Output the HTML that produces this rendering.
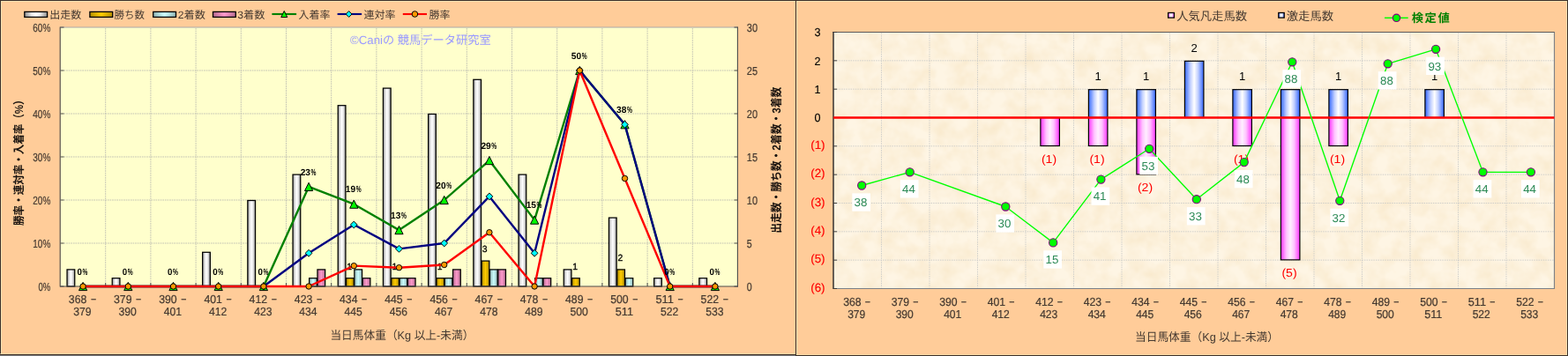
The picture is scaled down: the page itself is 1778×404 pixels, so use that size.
<!DOCTYPE html>
<html lang="ja"><head><meta charset="utf-8"><title>chart</title>
<style>html,body{margin:0;padding:0;background:#FFCC99}body{width:1778px;height:404px;overflow:hidden;font-family:"Liberation Sans",sans-serif}svg{display:block}text{font-family:"Liberation Sans","Noto Sans CJK JP",sans-serif;white-space:pre;text-rendering:geometricPrecision}</style></head><body>
<svg width="1778" height="404" viewBox="0 0 1778 404" font-family="'Liberation Sans', 'Noto Sans CJK JP', sans-serif"><defs><linearGradient id="gW" x1="0" x2="1" y1="0" y2="0"><stop offset="0" stop-color="#909090"/><stop offset="0.3" stop-color="#e6e6e6"/><stop offset="0.5" stop-color="#ffffff"/><stop offset="0.7" stop-color="#e6e6e6"/><stop offset="1" stop-color="#909090"/></linearGradient><linearGradient id="gG" x1="0" x2="1" y1="0" y2="0"><stop offset="0" stop-color="#b38f00"/><stop offset="0.5" stop-color="#ffcc00"/><stop offset="1" stop-color="#b38f00"/></linearGradient><linearGradient id="gC" x1="0" x2="1" y1="0" y2="0"><stop offset="0" stop-color="#8fb3b3"/><stop offset="0.5" stop-color="#ccffff"/><stop offset="1" stop-color="#8fb3b3"/></linearGradient><linearGradient id="gP" x1="0" x2="1" y1="0" y2="0"><stop offset="0" stop-color="#b36b8f"/><stop offset="0.5" stop-color="#ff99cc"/><stop offset="1" stop-color="#b36b8f"/></linearGradient><linearGradient id="gB" x1="0" x2="1" y1="0" y2="0"><stop offset="0" stop-color="#3366ff"/><stop offset="0.3" stop-color="#c3d1ff"/><stop offset="0.5" stop-color="#ffffff"/><stop offset="0.7" stop-color="#c3d1ff"/><stop offset="1" stop-color="#3366ff"/></linearGradient><linearGradient id="gM" x1="0" x2="1" y1="0" y2="0"><stop offset="0" stop-color="#ff33ff"/><stop offset="0.3" stop-color="#ffc4ff"/><stop offset="0.5" stop-color="#ffeeff"/><stop offset="0.7" stop-color="#ffc4ff"/><stop offset="1" stop-color="#ff33ff"/></linearGradient><linearGradient id="gB2" x1="0" x2="1" y1="0" y2="0"><stop offset="0" stop-color="#4468ff"/><stop offset="0.3" stop-color="#d5deff"/><stop offset="0.5" stop-color="#ffffff"/><stop offset="0.7" stop-color="#d5deff"/><stop offset="1" stop-color="#4468ff"/></linearGradient><linearGradient id="gM2" x1="0" x2="1" y1="0" y2="0"><stop offset="0" stop-color="#ff3cff"/><stop offset="0.3" stop-color="#ffd0ff"/><stop offset="0.5" stop-color="#ffffff"/><stop offset="0.7" stop-color="#ffd0ff"/><stop offset="1" stop-color="#ff3cff"/></linearGradient><filter id="tex" x="0" y="0" width="100%" height="100%" color-interpolation-filters="sRGB"><feTurbulence type="fractalNoise" baseFrequency="0.05" numOctaves="3" seed="7" result="n"/><feColorMatrix in="n" type="matrix" values="0 0 0 0 0.976  0 0 0 0 0.914  0 0 0 0 0.80  1.6 0 0 0 -0.5"/></filter></defs>
<g opacity="0.999"><rect x="0" y="0" width="1778" height="404" fill="#FFCC99"/>
<rect x="0" y="403" width="902" height="1" fill="#7f7f7f"/>
<rect x="0" y="402" width="902" height="1" fill="#3b3029"/>
<rect x="0" y="0" width="1778" height="1" fill="#3b3029"/>
<rect x="0" y="1" width="1778" height="1" fill="#ffe3b3"/>
<rect x="0" y="0" width="1" height="403" fill="#3b3029"/>
<rect x="1" y="1" width="1" height="401" fill="#ffe3b3"/>
<rect x="0" y="401" width="902" height="1" fill="#ffe0ad" opacity="0.6"/>
<rect x="902" y="0" width="1" height="404" fill="#3b3029"/>
<rect x="903" y="1" width="1" height="402" fill="#ffe3b3"/>
<rect x="902" y="403" width="876" height="1" fill="#3b3029"/>
<rect x="904" y="402" width="873" height="1" fill="#ffe0ad" opacity="0.6"/>
<rect x="1777" y="0" width="1" height="404" fill="#3b3029"/>
<rect x="1776" y="1" width="1" height="402" fill="#ffe3b3"/>
<rect x="68.5" y="31" width="768" height="294" fill="#FFFFCC"/>
<line x1="68.5" y1="31" x2="836.5" y2="31" stroke="#a9a9a9" stroke-width="1"/>
<path d="M72.5 276H832.5M72.5 227H832.5M72.5 178H832.5M72.5 129H832.5M72.5 80H832.5M119.7 32V324M170.9 32V324M222.1 32V324M273.3 32V324M324.5 32V324M375.7 32V324M426.9 32V324M478.1 32V324M529.3 32V324M580.5 32V324M631.7 32V324M682.9 32V324M734.1 32V324M785.3 32V324" stroke="#c3c3b4" stroke-width="1" stroke-dasharray="1.7 0.9" fill="none"/>
<rect x="76.03" y="305.9" width="8.71" height="19.1" fill="url(#gW)" stroke="#000" stroke-width="1.25"/>
<rect x="127.23" y="315.7" width="8.71" height="9.3" fill="url(#gW)" stroke="#000" stroke-width="1.25"/>
<rect x="229.63" y="286.3" width="8.71" height="38.7" fill="url(#gW)" stroke="#000" stroke-width="1.25"/>
<rect x="280.83" y="227.5" width="8.71" height="97.5" fill="url(#gW)" stroke="#000" stroke-width="1.25"/>
<rect x="332.03" y="198.1" width="8.71" height="126.9" fill="url(#gW)" stroke="#000" stroke-width="1.25"/>
<rect x="350.65" y="315.7" width="8.71" height="9.3" fill="url(#gC)" stroke="#000" stroke-width="1.25"/>
<rect x="359.96" y="305.9" width="8.71" height="19.1" fill="url(#gP)" stroke="#000" stroke-width="1.25"/>
<rect x="383.23" y="119.7" width="8.71" height="205.3" fill="url(#gW)" stroke="#000" stroke-width="1.25"/>
<rect x="392.54" y="315.7" width="8.71" height="9.3" fill="url(#gG)" stroke="#000" stroke-width="1.25"/>
<rect x="401.85" y="305.9" width="8.71" height="19.1" fill="url(#gC)" stroke="#000" stroke-width="1.25"/>
<rect x="411.16" y="315.7" width="8.71" height="9.3" fill="url(#gP)" stroke="#000" stroke-width="1.25"/>
<rect x="434.43" y="100.1" width="8.71" height="224.9" fill="url(#gW)" stroke="#000" stroke-width="1.25"/>
<rect x="443.74" y="315.7" width="8.71" height="9.3" fill="url(#gG)" stroke="#000" stroke-width="1.25"/>
<rect x="453.05" y="315.7" width="8.71" height="9.3" fill="url(#gC)" stroke="#000" stroke-width="1.25"/>
<rect x="462.36" y="315.7" width="8.71" height="9.3" fill="url(#gP)" stroke="#000" stroke-width="1.25"/>
<rect x="485.63" y="129.5" width="8.71" height="195.5" fill="url(#gW)" stroke="#000" stroke-width="1.25"/>
<rect x="494.94" y="315.7" width="8.71" height="9.3" fill="url(#gG)" stroke="#000" stroke-width="1.25"/>
<rect x="504.25" y="315.7" width="8.71" height="9.3" fill="url(#gC)" stroke="#000" stroke-width="1.25"/>
<rect x="513.56" y="305.9" width="8.71" height="19.1" fill="url(#gP)" stroke="#000" stroke-width="1.25"/>
<rect x="536.83" y="90.3" width="8.71" height="234.7" fill="url(#gW)" stroke="#000" stroke-width="1.25"/>
<rect x="546.14" y="296.1" width="8.71" height="28.9" fill="url(#gG)" stroke="#000" stroke-width="1.25"/>
<rect x="555.45" y="305.9" width="8.71" height="19.1" fill="url(#gC)" stroke="#000" stroke-width="1.25"/>
<rect x="564.76" y="305.9" width="8.71" height="19.1" fill="url(#gP)" stroke="#000" stroke-width="1.25"/>
<rect x="588.03" y="198.1" width="8.71" height="126.9" fill="url(#gW)" stroke="#000" stroke-width="1.25"/>
<rect x="606.65" y="315.7" width="8.71" height="9.3" fill="url(#gC)" stroke="#000" stroke-width="1.25"/>
<rect x="615.96" y="315.7" width="8.71" height="9.3" fill="url(#gP)" stroke="#000" stroke-width="1.25"/>
<rect x="639.23" y="305.9" width="8.71" height="19.1" fill="url(#gW)" stroke="#000" stroke-width="1.25"/>
<rect x="648.54" y="315.7" width="8.71" height="9.3" fill="url(#gG)" stroke="#000" stroke-width="1.25"/>
<rect x="690.43" y="247.1" width="8.71" height="77.9" fill="url(#gW)" stroke="#000" stroke-width="1.25"/>
<rect x="699.74" y="305.9" width="8.71" height="19.1" fill="url(#gG)" stroke="#000" stroke-width="1.25"/>
<rect x="709.05" y="315.7" width="8.71" height="9.3" fill="url(#gC)" stroke="#000" stroke-width="1.25"/>
<rect x="741.63" y="315.7" width="8.71" height="9.3" fill="url(#gW)" stroke="#000" stroke-width="1.25"/>
<rect x="792.83" y="315.7" width="8.71" height="9.3" fill="url(#gW)" stroke="#000" stroke-width="1.25"/>
<path d="M68.2 30.5V325.5" stroke="#4a4a4a" stroke-width="1.1" fill="none"/>
<path d="M836.4 30.5V325.5" stroke="#4a4a4a" stroke-width="1.1" fill="none"/>
<path d="M68 325H837" stroke="#4a4a4a" stroke-width="1.1" fill="none"/>
<path d="M68.5 325h4M836.5 325h-4M68.5 276h4M836.5 276h-4M68.5 227h4M836.5 227h-4M68.5 178h4M836.5 178h-4M68.5 129h4M836.5 129h-4M68.5 80h4M836.5 80h-4M68.5 31h4M836.5 31h-4M119.7 325v-4M170.9 325v-4M222.1 325v-4M273.3 325v-4M324.5 325v-4M375.7 325v-4M426.9 325v-4M478.1 325v-4M529.3 325v-4M580.5 325v-4M631.7 325v-4M682.9 325v-4M734.1 325v-4M785.3 325v-4" stroke="#4a4a4a" stroke-width="1" fill="none"/>
<text x="396.15" y="306" font-size="10.4" fill="#000" text-anchor="middle" stroke="#000" stroke-width="0.3">1</text>
<text x="447.35" y="306" font-size="10.4" fill="#000" text-anchor="middle" stroke="#000" stroke-width="0.3">1</text>
<text x="498.55" y="306" font-size="10.4" fill="#000" text-anchor="middle" stroke="#000" stroke-width="0.3">1</text>
<text x="549.75" y="286.4" font-size="10.4" fill="#000" text-anchor="middle" stroke="#000" stroke-width="0.3">3</text>
<text x="652.15" y="306" font-size="10.4" fill="#000" text-anchor="middle" stroke="#000" stroke-width="0.3">1</text>
<text x="703.35" y="296.2" font-size="10.4" fill="#000" text-anchor="middle" stroke="#000" stroke-width="0.3">2</text>
<polyline points="94.1,325 145.3,325 196.5,325 247.7,325 298.9,325 350.1,211.92 401.3,231.67 452.5,261.09 503.7,227 554.9,182.08 606.1,249.62 657.3,80 708.5,141.25 759.7,325 810.9,325" fill="none" stroke="#008000" stroke-width="2.4" stroke-linejoin="round"/>
<path d="M94.1 320.4L98.7 329.6L89.5 329.6Z" fill="#00FF00" stroke="#000" stroke-width="1"/>
<path d="M145.3 320.4L149.9 329.6L140.7 329.6Z" fill="#00FF00" stroke="#000" stroke-width="1"/>
<path d="M196.5 320.4L201.1 329.6L191.9 329.6Z" fill="#00FF00" stroke="#000" stroke-width="1"/>
<path d="M247.7 320.4L252.3 329.6L243.1 329.6Z" fill="#00FF00" stroke="#000" stroke-width="1"/>
<path d="M298.9 320.4L303.5 329.6L294.3 329.6Z" fill="#00FF00" stroke="#000" stroke-width="1"/>
<path d="M350.1 207.32L354.7 216.52L345.5 216.52Z" fill="#00FF00" stroke="#000" stroke-width="1"/>
<path d="M401.3 227.07L405.9 236.27L396.7 236.27Z" fill="#00FF00" stroke="#000" stroke-width="1"/>
<path d="M452.5 256.49L457.1 265.69L447.9 265.69Z" fill="#00FF00" stroke="#000" stroke-width="1"/>
<path d="M503.7 222.4L508.3 231.6L499.1 231.6Z" fill="#00FF00" stroke="#000" stroke-width="1"/>
<path d="M554.9 177.48L559.5 186.68L550.3 186.68Z" fill="#00FF00" stroke="#000" stroke-width="1"/>
<path d="M606.1 245.02L610.7 254.22L601.5 254.22Z" fill="#00FF00" stroke="#000" stroke-width="1"/>
<path d="M657.3 75.4L661.9 84.6L652.7 84.6Z" fill="#00FF00" stroke="#000" stroke-width="1"/>
<path d="M708.5 136.65L713.1 145.85L703.9 145.85Z" fill="#00FF00" stroke="#000" stroke-width="1"/>
<path d="M759.7 320.4L764.3 329.6L755.1 329.6Z" fill="#00FF00" stroke="#000" stroke-width="1"/>
<path d="M810.9 320.4L815.5 329.6L806.3 329.6Z" fill="#00FF00" stroke="#000" stroke-width="1"/>
<polyline points="94.1,325 145.3,325 196.5,325 247.7,325 298.9,325 350.1,287.31 401.3,255 452.5,282.39 503.7,276 554.9,222.92 606.1,287.31 657.3,80 708.5,141.25 759.7,325 810.9,325" fill="none" stroke="#000080" stroke-width="2.4" stroke-linejoin="round"/>
<path d="M298.9 321.1L302.8 325L298.9 328.9L295 325Z" fill="#00FFFF" stroke="#000" stroke-width="1"/>
<path d="M350.1 283.41L354 287.31L350.1 291.21L346.2 287.31Z" fill="#00FFFF" stroke="#000" stroke-width="1"/>
<path d="M401.3 251.1L405.2 255L401.3 258.9L397.4 255Z" fill="#00FFFF" stroke="#000" stroke-width="1"/>
<path d="M452.5 278.49L456.4 282.39L452.5 286.29L448.6 282.39Z" fill="#00FFFF" stroke="#000" stroke-width="1"/>
<path d="M503.7 272.1L507.6 276L503.7 279.9L499.8 276Z" fill="#00FFFF" stroke="#000" stroke-width="1"/>
<path d="M554.9 219.02L558.8 222.92L554.9 226.82L551 222.92Z" fill="#00FFFF" stroke="#000" stroke-width="1"/>
<path d="M606.1 283.41L610 287.31L606.1 291.21L602.2 287.31Z" fill="#00FFFF" stroke="#000" stroke-width="1"/>
<path d="M657.3 76.1L661.2 80L657.3 83.9L653.4 80Z" fill="#00FFFF" stroke="#000" stroke-width="1"/>
<path d="M708.5 137.35L712.4 141.25L708.5 145.15L704.6 141.25Z" fill="#00FFFF" stroke="#000" stroke-width="1"/>
<polyline points="94.1,325 145.3,325 196.5,325 247.7,325 298.9,325 350.1,325 401.3,301.67 452.5,303.7 503.7,300.5 554.9,263.75 606.1,325 657.3,80 708.5,202.5 759.7,325 810.9,325" fill="none" stroke="#FF0000" stroke-width="2.4" stroke-linejoin="round"/>
<circle cx="94.1" cy="325" r="3.2" fill="#FF9900" stroke="#000" stroke-width="1"/>
<circle cx="145.3" cy="325" r="3.2" fill="#FF9900" stroke="#000" stroke-width="1"/>
<circle cx="196.5" cy="325" r="3.2" fill="#FF9900" stroke="#000" stroke-width="1"/>
<circle cx="247.7" cy="325" r="3.2" fill="#FF9900" stroke="#000" stroke-width="1"/>
<circle cx="298.9" cy="325" r="3.2" fill="#FF9900" stroke="#000" stroke-width="1"/>
<circle cx="350.1" cy="325" r="3.2" fill="#FF9900" stroke="#000" stroke-width="1"/>
<circle cx="401.3" cy="301.67" r="3.2" fill="#FF9900" stroke="#000" stroke-width="1"/>
<circle cx="452.5" cy="303.7" r="3.2" fill="#FF9900" stroke="#000" stroke-width="1"/>
<circle cx="503.7" cy="300.5" r="3.2" fill="#FF9900" stroke="#000" stroke-width="1"/>
<circle cx="554.9" cy="263.75" r="3.2" fill="#FF9900" stroke="#000" stroke-width="1"/>
<circle cx="606.1" cy="325" r="3.2" fill="#FF9900" stroke="#000" stroke-width="1"/>
<circle cx="657.3" cy="80" r="3.2" fill="#FF9900" stroke="#000" stroke-width="1"/>
<circle cx="708.5" cy="202.5" r="3.2" fill="#FF9900" stroke="#000" stroke-width="1"/>
<circle cx="759.7" cy="325" r="3.2" fill="#FF9900" stroke="#000" stroke-width="1"/>
<circle cx="810.9" cy="325" r="3.2" fill="#FF9900" stroke="#000" stroke-width="1"/>
<text x="87.6" y="311.6" font-size="10.4" fill="#000" textLength="5.4" lengthAdjust="spacingAndGlyphs" font-weight="bold">0</text>
<text x="93.6" y="311.6" font-size="10.4" fill="#000" textLength="5.9" lengthAdjust="spacingAndGlyphs" font-weight="bold">%</text>
<text x="138.8" y="311.6" font-size="10.4" fill="#000" textLength="5.4" lengthAdjust="spacingAndGlyphs" font-weight="bold">0</text>
<text x="144.8" y="311.6" font-size="10.4" fill="#000" textLength="5.9" lengthAdjust="spacingAndGlyphs" font-weight="bold">%</text>
<text x="190" y="311.6" font-size="10.4" fill="#000" textLength="5.4" lengthAdjust="spacingAndGlyphs" font-weight="bold">0</text>
<text x="196" y="311.6" font-size="10.4" fill="#000" textLength="5.9" lengthAdjust="spacingAndGlyphs" font-weight="bold">%</text>
<text x="241.2" y="311.6" font-size="10.4" fill="#000" textLength="5.4" lengthAdjust="spacingAndGlyphs" font-weight="bold">0</text>
<text x="247.2" y="311.6" font-size="10.4" fill="#000" textLength="5.9" lengthAdjust="spacingAndGlyphs" font-weight="bold">%</text>
<text x="292.4" y="311.6" font-size="10.4" fill="#000" textLength="5.4" lengthAdjust="spacingAndGlyphs" font-weight="bold">0</text>
<text x="298.4" y="311.6" font-size="10.4" fill="#000" textLength="5.9" lengthAdjust="spacingAndGlyphs" font-weight="bold">%</text>
<text x="340.65" y="198.52" font-size="10.4" fill="#000" textLength="11.3" lengthAdjust="spacingAndGlyphs" font-weight="bold">23</text>
<text x="352.55" y="198.52" font-size="10.4" fill="#000" textLength="5.9" lengthAdjust="spacingAndGlyphs" font-weight="bold">%</text>
<text x="391.85" y="218.27" font-size="10.4" fill="#000" textLength="11.3" lengthAdjust="spacingAndGlyphs" font-weight="bold">19</text>
<text x="403.75" y="218.27" font-size="10.4" fill="#000" textLength="5.9" lengthAdjust="spacingAndGlyphs" font-weight="bold">%</text>
<text x="443.05" y="247.69" font-size="10.4" fill="#000" textLength="11.3" lengthAdjust="spacingAndGlyphs" font-weight="bold">13</text>
<text x="454.95" y="247.69" font-size="10.4" fill="#000" textLength="5.9" lengthAdjust="spacingAndGlyphs" font-weight="bold">%</text>
<text x="494.25" y="213.6" font-size="10.4" fill="#000" textLength="11.3" lengthAdjust="spacingAndGlyphs" font-weight="bold">20</text>
<text x="506.15" y="213.6" font-size="10.4" fill="#000" textLength="5.9" lengthAdjust="spacingAndGlyphs" font-weight="bold">%</text>
<text x="545.45" y="168.68" font-size="10.4" fill="#000" textLength="11.3" lengthAdjust="spacingAndGlyphs" font-weight="bold">29</text>
<text x="557.35" y="168.68" font-size="10.4" fill="#000" textLength="5.9" lengthAdjust="spacingAndGlyphs" font-weight="bold">%</text>
<text x="596.65" y="236.22" font-size="10.4" fill="#000" textLength="11.3" lengthAdjust="spacingAndGlyphs" font-weight="bold">15</text>
<text x="608.55" y="236.22" font-size="10.4" fill="#000" textLength="5.9" lengthAdjust="spacingAndGlyphs" font-weight="bold">%</text>
<text x="647.85" y="66.6" font-size="10.4" fill="#000" textLength="11.3" lengthAdjust="spacingAndGlyphs" font-weight="bold">50</text>
<text x="659.75" y="66.6" font-size="10.4" fill="#000" textLength="5.9" lengthAdjust="spacingAndGlyphs" font-weight="bold">%</text>
<text x="699.05" y="127.85" font-size="10.4" fill="#000" textLength="11.3" lengthAdjust="spacingAndGlyphs" font-weight="bold">38</text>
<text x="710.95" y="127.85" font-size="10.4" fill="#000" textLength="5.9" lengthAdjust="spacingAndGlyphs" font-weight="bold">%</text>
<text x="753.2" y="311.6" font-size="10.4" fill="#000" textLength="5.4" lengthAdjust="spacingAndGlyphs" font-weight="bold">0</text>
<text x="759.2" y="311.6" font-size="10.4" fill="#000" textLength="5.9" lengthAdjust="spacingAndGlyphs" font-weight="bold">%</text>
<text x="804.4" y="311.6" font-size="10.4" fill="#000" textLength="5.4" lengthAdjust="spacingAndGlyphs" font-weight="bold">0</text>
<text x="810.4" y="311.6" font-size="10.4" fill="#000" textLength="5.9" lengthAdjust="spacingAndGlyphs" font-weight="bold">%</text>
<text x="57.3" y="329.7" font-size="13" fill="#453a31" text-anchor="end" textLength="13.7" lengthAdjust="spacingAndGlyphs" stroke="#453a31" stroke-width="0.22">0%</text>
<text x="846.8" y="329.7" font-size="13" fill="#453a31" textLength="5.9" lengthAdjust="spacingAndGlyphs" stroke="#453a31" stroke-width="0.22">0</text>
<text x="57.3" y="280.7" font-size="13" fill="#453a31" text-anchor="end" textLength="20" lengthAdjust="spacingAndGlyphs" stroke="#453a31" stroke-width="0.22">10%</text>
<text x="846.8" y="280.7" font-size="13" fill="#453a31" textLength="5.9" lengthAdjust="spacingAndGlyphs" stroke="#453a31" stroke-width="0.22">5</text>
<text x="57.3" y="231.7" font-size="13" fill="#453a31" text-anchor="end" textLength="20" lengthAdjust="spacingAndGlyphs" stroke="#453a31" stroke-width="0.22">20%</text>
<text x="846.8" y="231.7" font-size="13" fill="#453a31" textLength="12.2" lengthAdjust="spacingAndGlyphs" stroke="#453a31" stroke-width="0.22">10</text>
<text x="57.3" y="182.7" font-size="13" fill="#453a31" text-anchor="end" textLength="20" lengthAdjust="spacingAndGlyphs" stroke="#453a31" stroke-width="0.22">30%</text>
<text x="846.8" y="182.7" font-size="13" fill="#453a31" textLength="12.2" lengthAdjust="spacingAndGlyphs" stroke="#453a31" stroke-width="0.22">15</text>
<text x="57.3" y="133.7" font-size="13" fill="#453a31" text-anchor="end" textLength="20" lengthAdjust="spacingAndGlyphs" stroke="#453a31" stroke-width="0.22">40%</text>
<text x="846.8" y="133.7" font-size="13" fill="#453a31" textLength="12.2" lengthAdjust="spacingAndGlyphs" stroke="#453a31" stroke-width="0.22">20</text>
<text x="57.3" y="84.7" font-size="13" fill="#453a31" text-anchor="end" textLength="20" lengthAdjust="spacingAndGlyphs" stroke="#453a31" stroke-width="0.22">50%</text>
<text x="846.8" y="84.7" font-size="13" fill="#453a31" textLength="12.2" lengthAdjust="spacingAndGlyphs" stroke="#453a31" stroke-width="0.22">25</text>
<text x="57.3" y="35.7" font-size="13" fill="#453a31" text-anchor="end" textLength="20" lengthAdjust="spacingAndGlyphs" stroke="#453a31" stroke-width="0.22">60%</text>
<text x="846.8" y="35.7" font-size="13" fill="#453a31" textLength="12.2" lengthAdjust="spacingAndGlyphs" stroke="#453a31" stroke-width="0.22">30</text>
<text x="77.8" y="344.4" font-size="13" fill="#453a31" textLength="20.5" lengthAdjust="spacingAndGlyphs" stroke="#453a31" stroke-width="0.22">368</text>
<text x="102.9" y="344.4" font-size="13" fill="#453a31" textLength="6.2" lengthAdjust="spacingAndGlyphs" stroke="#453a31" stroke-width="0.22">−</text>
<text x="93.5" y="357.8" font-size="13" fill="#453a31" text-anchor="middle" textLength="20.3" lengthAdjust="spacingAndGlyphs" stroke="#453a31" stroke-width="0.22">379</text>
<text x="129" y="344.4" font-size="13" fill="#453a31" textLength="20.5" lengthAdjust="spacingAndGlyphs" stroke="#453a31" stroke-width="0.22">379</text>
<text x="154.1" y="344.4" font-size="13" fill="#453a31" textLength="6.2" lengthAdjust="spacingAndGlyphs" stroke="#453a31" stroke-width="0.22">−</text>
<text x="144.7" y="357.8" font-size="13" fill="#453a31" text-anchor="middle" textLength="20.3" lengthAdjust="spacingAndGlyphs" stroke="#453a31" stroke-width="0.22">390</text>
<text x="180.2" y="344.4" font-size="13" fill="#453a31" textLength="20.5" lengthAdjust="spacingAndGlyphs" stroke="#453a31" stroke-width="0.22">390</text>
<text x="205.3" y="344.4" font-size="13" fill="#453a31" textLength="6.2" lengthAdjust="spacingAndGlyphs" stroke="#453a31" stroke-width="0.22">−</text>
<text x="195.9" y="357.8" font-size="13" fill="#453a31" text-anchor="middle" textLength="20.3" lengthAdjust="spacingAndGlyphs" stroke="#453a31" stroke-width="0.22">401</text>
<text x="231.4" y="344.4" font-size="13" fill="#453a31" textLength="20.5" lengthAdjust="spacingAndGlyphs" stroke="#453a31" stroke-width="0.22">401</text>
<text x="256.5" y="344.4" font-size="13" fill="#453a31" textLength="6.2" lengthAdjust="spacingAndGlyphs" stroke="#453a31" stroke-width="0.22">−</text>
<text x="247.1" y="357.8" font-size="13" fill="#453a31" text-anchor="middle" textLength="20.3" lengthAdjust="spacingAndGlyphs" stroke="#453a31" stroke-width="0.22">412</text>
<text x="282.6" y="344.4" font-size="13" fill="#453a31" textLength="20.5" lengthAdjust="spacingAndGlyphs" stroke="#453a31" stroke-width="0.22">412</text>
<text x="307.7" y="344.4" font-size="13" fill="#453a31" textLength="6.2" lengthAdjust="spacingAndGlyphs" stroke="#453a31" stroke-width="0.22">−</text>
<text x="298.3" y="357.8" font-size="13" fill="#453a31" text-anchor="middle" textLength="20.3" lengthAdjust="spacingAndGlyphs" stroke="#453a31" stroke-width="0.22">423</text>
<text x="333.8" y="344.4" font-size="13" fill="#453a31" textLength="20.5" lengthAdjust="spacingAndGlyphs" stroke="#453a31" stroke-width="0.22">423</text>
<text x="358.9" y="344.4" font-size="13" fill="#453a31" textLength="6.2" lengthAdjust="spacingAndGlyphs" stroke="#453a31" stroke-width="0.22">−</text>
<text x="349.5" y="357.8" font-size="13" fill="#453a31" text-anchor="middle" textLength="20.3" lengthAdjust="spacingAndGlyphs" stroke="#453a31" stroke-width="0.22">434</text>
<text x="385" y="344.4" font-size="13" fill="#453a31" textLength="20.5" lengthAdjust="spacingAndGlyphs" stroke="#453a31" stroke-width="0.22">434</text>
<text x="410.1" y="344.4" font-size="13" fill="#453a31" textLength="6.2" lengthAdjust="spacingAndGlyphs" stroke="#453a31" stroke-width="0.22">−</text>
<text x="400.7" y="357.8" font-size="13" fill="#453a31" text-anchor="middle" textLength="20.3" lengthAdjust="spacingAndGlyphs" stroke="#453a31" stroke-width="0.22">445</text>
<text x="436.2" y="344.4" font-size="13" fill="#453a31" textLength="20.5" lengthAdjust="spacingAndGlyphs" stroke="#453a31" stroke-width="0.22">445</text>
<text x="461.3" y="344.4" font-size="13" fill="#453a31" textLength="6.2" lengthAdjust="spacingAndGlyphs" stroke="#453a31" stroke-width="0.22">−</text>
<text x="451.9" y="357.8" font-size="13" fill="#453a31" text-anchor="middle" textLength="20.3" lengthAdjust="spacingAndGlyphs" stroke="#453a31" stroke-width="0.22">456</text>
<text x="487.4" y="344.4" font-size="13" fill="#453a31" textLength="20.5" lengthAdjust="spacingAndGlyphs" stroke="#453a31" stroke-width="0.22">456</text>
<text x="512.5" y="344.4" font-size="13" fill="#453a31" textLength="6.2" lengthAdjust="spacingAndGlyphs" stroke="#453a31" stroke-width="0.22">−</text>
<text x="503.1" y="357.8" font-size="13" fill="#453a31" text-anchor="middle" textLength="20.3" lengthAdjust="spacingAndGlyphs" stroke="#453a31" stroke-width="0.22">467</text>
<text x="538.6" y="344.4" font-size="13" fill="#453a31" textLength="20.5" lengthAdjust="spacingAndGlyphs" stroke="#453a31" stroke-width="0.22">467</text>
<text x="563.7" y="344.4" font-size="13" fill="#453a31" textLength="6.2" lengthAdjust="spacingAndGlyphs" stroke="#453a31" stroke-width="0.22">−</text>
<text x="554.3" y="357.8" font-size="13" fill="#453a31" text-anchor="middle" textLength="20.3" lengthAdjust="spacingAndGlyphs" stroke="#453a31" stroke-width="0.22">478</text>
<text x="589.8" y="344.4" font-size="13" fill="#453a31" textLength="20.5" lengthAdjust="spacingAndGlyphs" stroke="#453a31" stroke-width="0.22">478</text>
<text x="614.9" y="344.4" font-size="13" fill="#453a31" textLength="6.2" lengthAdjust="spacingAndGlyphs" stroke="#453a31" stroke-width="0.22">−</text>
<text x="605.5" y="357.8" font-size="13" fill="#453a31" text-anchor="middle" textLength="20.3" lengthAdjust="spacingAndGlyphs" stroke="#453a31" stroke-width="0.22">489</text>
<text x="641" y="344.4" font-size="13" fill="#453a31" textLength="20.5" lengthAdjust="spacingAndGlyphs" stroke="#453a31" stroke-width="0.22">489</text>
<text x="666.1" y="344.4" font-size="13" fill="#453a31" textLength="6.2" lengthAdjust="spacingAndGlyphs" stroke="#453a31" stroke-width="0.22">−</text>
<text x="656.7" y="357.8" font-size="13" fill="#453a31" text-anchor="middle" textLength="20.3" lengthAdjust="spacingAndGlyphs" stroke="#453a31" stroke-width="0.22">500</text>
<text x="692.2" y="344.4" font-size="13" fill="#453a31" textLength="20.5" lengthAdjust="spacingAndGlyphs" stroke="#453a31" stroke-width="0.22">500</text>
<text x="717.3" y="344.4" font-size="13" fill="#453a31" textLength="6.2" lengthAdjust="spacingAndGlyphs" stroke="#453a31" stroke-width="0.22">−</text>
<text x="707.9" y="357.8" font-size="13" fill="#453a31" text-anchor="middle" textLength="20.3" lengthAdjust="spacingAndGlyphs" stroke="#453a31" stroke-width="0.22">511</text>
<text x="743.4" y="344.4" font-size="13" fill="#453a31" textLength="20.5" lengthAdjust="spacingAndGlyphs" stroke="#453a31" stroke-width="0.22">511</text>
<text x="768.5" y="344.4" font-size="13" fill="#453a31" textLength="6.2" lengthAdjust="spacingAndGlyphs" stroke="#453a31" stroke-width="0.22">−</text>
<text x="759.1" y="357.8" font-size="13" fill="#453a31" text-anchor="middle" textLength="20.3" lengthAdjust="spacingAndGlyphs" stroke="#453a31" stroke-width="0.22">522</text>
<text x="794.6" y="344.4" font-size="13" fill="#453a31" textLength="20.5" lengthAdjust="spacingAndGlyphs" stroke="#453a31" stroke-width="0.22">522</text>
<text x="819.7" y="344.4" font-size="13" fill="#453a31" textLength="6.2" lengthAdjust="spacingAndGlyphs" stroke="#453a31" stroke-width="0.22">−</text>
<text x="810.3" y="357.8" font-size="13" fill="#453a31" text-anchor="middle" textLength="20.3" lengthAdjust="spacingAndGlyphs" stroke="#453a31" stroke-width="0.22">533</text>
<rect x="27.8" y="13.4" width="25.8" height="6.0" fill="url(#gW)" stroke="#000" stroke-width="1.3"/>
<text x="56.2" y="20.9" font-size="12" fill="#453a31" textLength="36" lengthAdjust="spacingAndGlyphs">出走数</text>
<rect x="101.9" y="13.4" width="25.8" height="6.0" fill="url(#gG)" stroke="#000" stroke-width="1.3"/>
<text x="129.6" y="20.9" font-size="12" fill="#453a31" textLength="34.4" lengthAdjust="spacingAndGlyphs">勝ち数</text>
<rect x="173.7" y="13.4" width="25.8" height="6.0" fill="url(#gC)" stroke="#000" stroke-width="1.3"/>
<text x="201.7" y="20.9" font-size="12" fill="#453a31" textLength="31.2" lengthAdjust="spacingAndGlyphs">2着数</text>
<rect x="241.5" y="13.4" width="25.8" height="6.0" fill="url(#gP)" stroke="#000" stroke-width="1.3"/>
<text x="269.2" y="20.9" font-size="12" fill="#453a31" textLength="31.2" lengthAdjust="spacingAndGlyphs">3着数</text>
<line x1="308.4" y1="16" x2="336.1" y2="16" stroke="#008000" stroke-width="2.1"/>
<path d="M322.25 12.5L325.75 19.5L318.75 19.5Z" fill="#00FF00" stroke="#000" stroke-width="1"/>
<text x="338.6" y="20.9" font-size="12" fill="#453a31" textLength="36" lengthAdjust="spacingAndGlyphs">入着率</text>
<line x1="382.6" y1="16" x2="410.1" y2="16" stroke="#000080" stroke-width="2.1"/>
<path d="M395.65 12.6L399.05 16L395.65 19.4L392.25 16Z" fill="#00FFFF" stroke="#000" stroke-width="1"/>
<text x="412.4" y="20.9" font-size="12" fill="#453a31" textLength="36" lengthAdjust="spacingAndGlyphs">連対率</text>
<line x1="456.8" y1="16" x2="484" y2="16" stroke="#FF0000" stroke-width="2.1"/>
<circle cx="470.4" cy="16" r="3.3" fill="#FF9900" stroke="#000" stroke-width="1"/>
<text x="486.4" y="20.9" font-size="12" fill="#453a31" textLength="24" lengthAdjust="spacingAndGlyphs">勝率</text>
<text x="397" y="50.3" font-size="13.4" fill="#9a9aff" textLength="159.7" lengthAdjust="spacingAndGlyphs">©Caniの 競馬データ研究室</text>
<text transform="translate(26,255.9) rotate(-90)" x="0" y="0" font-size="13.2" font-weight="bold" fill="#1a1410" textLength="148.5" lengthAdjust="spacingAndGlyphs">勝率・連対率・入着率（%）</text>
<text transform="translate(885.2,264.8) rotate(-90)" x="0" y="0" font-size="13.3" font-weight="bold" fill="#1a1410" textLength="166.1" lengthAdjust="spacingAndGlyphs">出走数・勝ち数・2着数・3着数</text>
<text x="374.4" y="384.6" font-size="13.2" fill="#453a31" textLength="163" lengthAdjust="spacingAndGlyphs">当日馬体重（Kg 以上-未満）</text>
<rect x="945" y="36.5" width="817.5" height="291" fill="#FEF5E4"/>
<rect x="945" y="36.5" width="817.5" height="291" fill="#FEF5E4" filter="url(#tex)"/>
<path d="M949 295.17H1762.5M949 262.83H1762.5M949 230.5H1762.5M949 198.17H1762.5M949 165.83H1762.5M949 101.17H1762.5M949 68.83H1762.5M999.5 37.5V326.5M1054 37.5V326.5M1108.5 37.5V326.5M1163 37.5V326.5M1217.5 37.5V326.5M1272 37.5V326.5M1326.5 37.5V326.5M1381 37.5V326.5M1435.5 37.5V326.5M1490 37.5V326.5M1544.5 37.5V326.5M1599 37.5V326.5M1653.5 37.5V326.5M1708 37.5V326.5" stroke="#cdcdc9" stroke-width="1" stroke-dasharray="1.4 1.2" fill="none"/>
<path d="M944.5 36.5H1763" stroke="#5a5a5a" stroke-width="1.1" fill="none"/>
<path d="M1762.5 36.5V327.5H945" stroke="#7b8088" stroke-width="1.1" fill="none"/>
<path d="M945 36V328" stroke="#262626" stroke-width="1.4" fill="none"/>
<path d="M945 327.5h4M945 295.17h4M945 262.83h4M945 230.5h4M945 198.17h4M945 165.83h4M945 133.5h4M945 101.17h4M945 68.83h4M945 36.5h4" stroke="#3c3c3c" stroke-width="1" fill="none"/>
<rect x="1179.9" y="133.5" width="21.5" height="32.03" fill="url(#gM)" stroke="#000" stroke-width="1.2"/>
<rect x="1234.4" y="101.67" width="21.5" height="31.83" fill="url(#gB)" stroke="#000" stroke-width="1.2"/>
<rect x="1234.4" y="133.5" width="21.5" height="32.03" fill="url(#gM)" stroke="#000" stroke-width="1.2"/>
<rect x="1288.9" y="101.67" width="21.5" height="31.83" fill="url(#gB)" stroke="#000" stroke-width="1.2"/>
<rect x="1288.9" y="133.5" width="21.5" height="64.37" fill="url(#gM)" stroke="#000" stroke-width="1.2"/>
<rect x="1343.4" y="69.33" width="21.5" height="64.17" fill="url(#gB)" stroke="#000" stroke-width="1.2"/>
<rect x="1397.9" y="101.67" width="21.5" height="31.83" fill="url(#gB)" stroke="#000" stroke-width="1.2"/>
<rect x="1397.9" y="133.5" width="21.5" height="32.03" fill="url(#gM)" stroke="#000" stroke-width="1.2"/>
<rect x="1452.4" y="101.67" width="21.5" height="31.83" fill="url(#gB)" stroke="#000" stroke-width="1.2"/>
<rect x="1452.4" y="133.5" width="21.5" height="161.37" fill="url(#gM)" stroke="#000" stroke-width="1.2"/>
<rect x="1506.9" y="101.67" width="21.5" height="31.83" fill="url(#gB)" stroke="#000" stroke-width="1.2"/>
<rect x="1506.9" y="133.5" width="21.5" height="32.03" fill="url(#gM)" stroke="#000" stroke-width="1.2"/>
<rect x="1615.9" y="101.67" width="21.5" height="31.83" fill="url(#gB)" stroke="#000" stroke-width="1.2"/>
<line x1="945" y1="133.5" x2="1762.5" y2="133.5" stroke="#FF0000" stroke-width="2.5"/>
<text x="1189.55" y="184.83" font-size="13" fill="#FF0000" text-anchor="middle" textLength="17.2" lengthAdjust="spacingAndGlyphs">(1)</text>
<text x="1245.05" y="91.27" font-size="13" fill="#000" text-anchor="middle">1</text>
<text x="1244.05" y="184.83" font-size="13" fill="#FF0000" text-anchor="middle" textLength="17.2" lengthAdjust="spacingAndGlyphs">(1)</text>
<text x="1299.55" y="91.27" font-size="13" fill="#000" text-anchor="middle">1</text>
<text x="1298.55" y="217.17" font-size="13" fill="#FF0000" text-anchor="middle" textLength="17.2" lengthAdjust="spacingAndGlyphs">(2)</text>
<text x="1354.05" y="58.93" font-size="13" fill="#000" text-anchor="middle">2</text>
<text x="1408.55" y="91.27" font-size="13" fill="#000" text-anchor="middle">1</text>
<text x="1407.55" y="184.83" font-size="13" fill="#FF0000" text-anchor="middle" textLength="17.2" lengthAdjust="spacingAndGlyphs">(1)</text>
<text x="1463.05" y="91.27" font-size="13" fill="#000" text-anchor="middle">1</text>
<text x="1462.05" y="314.17" font-size="13" fill="#FF0000" text-anchor="middle" textLength="17.2" lengthAdjust="spacingAndGlyphs">(5)</text>
<text x="1517.55" y="91.27" font-size="13" fill="#000" text-anchor="middle">1</text>
<text x="1516.55" y="184.83" font-size="13" fill="#FF0000" text-anchor="middle" textLength="17.2" lengthAdjust="spacingAndGlyphs">(1)</text>
<text x="1626.55" y="91.27" font-size="13" fill="#000" text-anchor="middle">1</text>
<polyline points="977.2,210.5 1031.7,195.3 1140.3,234.5 1194.2,275.4 1248.4,203.6 1303.2,168.8 1356.8,226.2 1410.7,184.1 1465.3,70.3 1519.3,227.8 1573.7,72.3 1628.1,55.8 1681.5,195.3 1735.9,195.3" fill="none" stroke="#00FF00" stroke-width="1.35" stroke-linejoin="round"/>
<circle cx="977.2" cy="210.5" r="4.6" fill="#00FF00" stroke="#800080" stroke-width="1.1"/>
<circle cx="1031.7" cy="195.3" r="4.6" fill="#00FF00" stroke="#800080" stroke-width="1.1"/>
<circle cx="1140.3" cy="234.5" r="4.6" fill="#00FF00" stroke="#800080" stroke-width="1.1"/>
<circle cx="1194.2" cy="275.4" r="4.6" fill="#00FF00" stroke="#800080" stroke-width="1.1"/>
<circle cx="1248.4" cy="203.6" r="4.6" fill="#00FF00" stroke="#800080" stroke-width="1.1"/>
<circle cx="1303.2" cy="168.8" r="4.6" fill="#00FF00" stroke="#800080" stroke-width="1.1"/>
<circle cx="1356.8" cy="226.2" r="4.6" fill="#00FF00" stroke="#800080" stroke-width="1.1"/>
<circle cx="1410.7" cy="184.1" r="4.6" fill="#00FF00" stroke="#800080" stroke-width="1.1"/>
<circle cx="1465.3" cy="70.3" r="4.6" fill="#00FF00" stroke="#800080" stroke-width="1.1"/>
<circle cx="1519.3" cy="227.8" r="4.6" fill="#00FF00" stroke="#800080" stroke-width="1.1"/>
<circle cx="1573.7" cy="72.3" r="4.6" fill="#00FF00" stroke="#800080" stroke-width="1.1"/>
<circle cx="1628.1" cy="55.8" r="4.6" fill="#00FF00" stroke="#800080" stroke-width="1.1"/>
<circle cx="1681.5" cy="195.3" r="4.6" fill="#00FF00" stroke="#800080" stroke-width="1.1"/>
<circle cx="1735.9" cy="195.3" r="4.6" fill="#00FF00" stroke="#800080" stroke-width="1.1"/>
<rect x="966.3" y="219.4" width="20.7" height="20.3" fill="#fff"/>
<text x="975.9" y="234.3" font-size="13" fill="#2E8B57" text-anchor="middle" textLength="14.8" lengthAdjust="spacingAndGlyphs">38</text>
<rect x="1020.8" y="204.2" width="20.7" height="20.3" fill="#fff"/>
<text x="1030.4" y="219.1" font-size="13" fill="#2E8B57" text-anchor="middle" textLength="14.8" lengthAdjust="spacingAndGlyphs">44</text>
<rect x="1129.4" y="243.4" width="20.7" height="20.3" fill="#fff"/>
<text x="1139" y="258.3" font-size="13" fill="#2E8B57" text-anchor="middle" textLength="14.8" lengthAdjust="spacingAndGlyphs">30</text>
<rect x="1183.3" y="284.3" width="20.7" height="20.3" fill="#fff"/>
<text x="1192.9" y="299.2" font-size="13" fill="#2E8B57" text-anchor="middle" textLength="14.8" lengthAdjust="spacingAndGlyphs">15</text>
<rect x="1237.5" y="212.5" width="20.7" height="20.3" fill="#fff"/>
<text x="1247.1" y="227.4" font-size="13" fill="#2E8B57" text-anchor="middle" textLength="14.8" lengthAdjust="spacingAndGlyphs">41</text>
<rect x="1292.3" y="177.7" width="20.7" height="20.3" fill="#fff"/>
<text x="1301.9" y="192.6" font-size="13" fill="#2E8B57" text-anchor="middle" textLength="14.8" lengthAdjust="spacingAndGlyphs">53</text>
<rect x="1345.9" y="235.1" width="20.7" height="20.3" fill="#fff"/>
<text x="1355.5" y="250" font-size="13" fill="#2E8B57" text-anchor="middle" textLength="14.8" lengthAdjust="spacingAndGlyphs">33</text>
<rect x="1399.8" y="193" width="20.7" height="20.3" fill="#fff"/>
<text x="1409.4" y="207.9" font-size="13" fill="#2E8B57" text-anchor="middle" textLength="14.8" lengthAdjust="spacingAndGlyphs">48</text>
<rect x="1454.4" y="79.2" width="20.7" height="20.3" fill="#fff"/>
<text x="1464" y="94.1" font-size="13" fill="#2E8B57" text-anchor="middle" textLength="14.8" lengthAdjust="spacingAndGlyphs">88</text>
<rect x="1508.4" y="236.7" width="20.7" height="20.3" fill="#fff"/>
<text x="1518" y="251.6" font-size="13" fill="#2E8B57" text-anchor="middle" textLength="14.8" lengthAdjust="spacingAndGlyphs">32</text>
<rect x="1562.8" y="81.2" width="20.7" height="20.3" fill="#fff"/>
<text x="1572.4" y="96.1" font-size="13" fill="#2E8B57" text-anchor="middle" textLength="14.8" lengthAdjust="spacingAndGlyphs">88</text>
<rect x="1617.2" y="64.7" width="20.7" height="20.3" fill="#fff"/>
<text x="1626.8" y="79.6" font-size="13" fill="#2E8B57" text-anchor="middle" textLength="14.8" lengthAdjust="spacingAndGlyphs">93</text>
<rect x="1670.6" y="204.2" width="20.7" height="20.3" fill="#fff"/>
<text x="1680.2" y="219.1" font-size="13" fill="#2E8B57" text-anchor="middle" textLength="14.8" lengthAdjust="spacingAndGlyphs">44</text>
<rect x="1725" y="204.2" width="20.7" height="20.3" fill="#fff"/>
<text x="1734.6" y="219.1" font-size="13" fill="#2E8B57" text-anchor="middle" textLength="14.8" lengthAdjust="spacingAndGlyphs">44</text>
<text x="935.6" y="330.5" font-size="13.5" fill="#FF0000" text-anchor="end" textLength="16.4" lengthAdjust="spacingAndGlyphs" stroke="#FF0000" stroke-width="0.15">(6)</text>
<text x="935.6" y="298.17" font-size="13.5" fill="#FF0000" text-anchor="end" textLength="16.4" lengthAdjust="spacingAndGlyphs" stroke="#FF0000" stroke-width="0.15">(5)</text>
<text x="935.6" y="265.83" font-size="13.5" fill="#FF0000" text-anchor="end" textLength="16.4" lengthAdjust="spacingAndGlyphs" stroke="#FF0000" stroke-width="0.15">(4)</text>
<text x="935.6" y="233.5" font-size="13.5" fill="#FF0000" text-anchor="end" textLength="16.4" lengthAdjust="spacingAndGlyphs" stroke="#FF0000" stroke-width="0.15">(3)</text>
<text x="935.6" y="201.17" font-size="13.5" fill="#FF0000" text-anchor="end" textLength="16.4" lengthAdjust="spacingAndGlyphs" stroke="#FF0000" stroke-width="0.15">(2)</text>
<text x="935.6" y="168.83" font-size="13.5" fill="#FF0000" text-anchor="end" textLength="16.4" lengthAdjust="spacingAndGlyphs" stroke="#FF0000" stroke-width="0.15">(1)</text>
<text x="930.6" y="138.2" font-size="13" fill="#000" text-anchor="end" textLength="7" lengthAdjust="spacingAndGlyphs" stroke="#000" stroke-width="0.15">0</text>
<text x="930.6" y="105.87" font-size="13" fill="#000" text-anchor="end" textLength="7" lengthAdjust="spacingAndGlyphs" stroke="#000" stroke-width="0.15">1</text>
<text x="930.6" y="73.53" font-size="13" fill="#000" text-anchor="end" textLength="7" lengthAdjust="spacingAndGlyphs" stroke="#000" stroke-width="0.15">2</text>
<text x="930.6" y="41.2" font-size="13" fill="#000" text-anchor="end" textLength="7" lengthAdjust="spacingAndGlyphs" stroke="#000" stroke-width="0.15">3</text>
<text x="956.25" y="347.2" font-size="13" fill="#453a31" textLength="20.4" lengthAdjust="spacingAndGlyphs" stroke="#453a31" stroke-width="0.22">368</text>
<text x="980.85" y="347.2" font-size="13" fill="#453a31" textLength="6.2" lengthAdjust="spacingAndGlyphs" stroke="#453a31" stroke-width="0.22">−</text>
<text x="971.25" y="360.8" font-size="13" fill="#453a31" text-anchor="middle" textLength="20.2" lengthAdjust="spacingAndGlyphs" stroke="#453a31" stroke-width="0.22">379</text>
<text x="1010.75" y="347.2" font-size="13" fill="#453a31" textLength="20.4" lengthAdjust="spacingAndGlyphs" stroke="#453a31" stroke-width="0.22">379</text>
<text x="1035.35" y="347.2" font-size="13" fill="#453a31" textLength="6.2" lengthAdjust="spacingAndGlyphs" stroke="#453a31" stroke-width="0.22">−</text>
<text x="1025.75" y="360.8" font-size="13" fill="#453a31" text-anchor="middle" textLength="20.2" lengthAdjust="spacingAndGlyphs" stroke="#453a31" stroke-width="0.22">390</text>
<text x="1065.25" y="347.2" font-size="13" fill="#453a31" textLength="20.4" lengthAdjust="spacingAndGlyphs" stroke="#453a31" stroke-width="0.22">390</text>
<text x="1089.85" y="347.2" font-size="13" fill="#453a31" textLength="6.2" lengthAdjust="spacingAndGlyphs" stroke="#453a31" stroke-width="0.22">−</text>
<text x="1080.25" y="360.8" font-size="13" fill="#453a31" text-anchor="middle" textLength="20.2" lengthAdjust="spacingAndGlyphs" stroke="#453a31" stroke-width="0.22">401</text>
<text x="1119.75" y="347.2" font-size="13" fill="#453a31" textLength="20.4" lengthAdjust="spacingAndGlyphs" stroke="#453a31" stroke-width="0.22">401</text>
<text x="1144.35" y="347.2" font-size="13" fill="#453a31" textLength="6.2" lengthAdjust="spacingAndGlyphs" stroke="#453a31" stroke-width="0.22">−</text>
<text x="1134.75" y="360.8" font-size="13" fill="#453a31" text-anchor="middle" textLength="20.2" lengthAdjust="spacingAndGlyphs" stroke="#453a31" stroke-width="0.22">412</text>
<text x="1174.25" y="347.2" font-size="13" fill="#453a31" textLength="20.4" lengthAdjust="spacingAndGlyphs" stroke="#453a31" stroke-width="0.22">412</text>
<text x="1198.85" y="347.2" font-size="13" fill="#453a31" textLength="6.2" lengthAdjust="spacingAndGlyphs" stroke="#453a31" stroke-width="0.22">−</text>
<text x="1189.25" y="360.8" font-size="13" fill="#453a31" text-anchor="middle" textLength="20.2" lengthAdjust="spacingAndGlyphs" stroke="#453a31" stroke-width="0.22">423</text>
<text x="1228.75" y="347.2" font-size="13" fill="#453a31" textLength="20.4" lengthAdjust="spacingAndGlyphs" stroke="#453a31" stroke-width="0.22">423</text>
<text x="1253.35" y="347.2" font-size="13" fill="#453a31" textLength="6.2" lengthAdjust="spacingAndGlyphs" stroke="#453a31" stroke-width="0.22">−</text>
<text x="1243.75" y="360.8" font-size="13" fill="#453a31" text-anchor="middle" textLength="20.2" lengthAdjust="spacingAndGlyphs" stroke="#453a31" stroke-width="0.22">434</text>
<text x="1283.25" y="347.2" font-size="13" fill="#453a31" textLength="20.4" lengthAdjust="spacingAndGlyphs" stroke="#453a31" stroke-width="0.22">434</text>
<text x="1307.85" y="347.2" font-size="13" fill="#453a31" textLength="6.2" lengthAdjust="spacingAndGlyphs" stroke="#453a31" stroke-width="0.22">−</text>
<text x="1298.25" y="360.8" font-size="13" fill="#453a31" text-anchor="middle" textLength="20.2" lengthAdjust="spacingAndGlyphs" stroke="#453a31" stroke-width="0.22">445</text>
<text x="1337.75" y="347.2" font-size="13" fill="#453a31" textLength="20.4" lengthAdjust="spacingAndGlyphs" stroke="#453a31" stroke-width="0.22">445</text>
<text x="1362.35" y="347.2" font-size="13" fill="#453a31" textLength="6.2" lengthAdjust="spacingAndGlyphs" stroke="#453a31" stroke-width="0.22">−</text>
<text x="1352.75" y="360.8" font-size="13" fill="#453a31" text-anchor="middle" textLength="20.2" lengthAdjust="spacingAndGlyphs" stroke="#453a31" stroke-width="0.22">456</text>
<text x="1392.25" y="347.2" font-size="13" fill="#453a31" textLength="20.4" lengthAdjust="spacingAndGlyphs" stroke="#453a31" stroke-width="0.22">456</text>
<text x="1416.85" y="347.2" font-size="13" fill="#453a31" textLength="6.2" lengthAdjust="spacingAndGlyphs" stroke="#453a31" stroke-width="0.22">−</text>
<text x="1407.25" y="360.8" font-size="13" fill="#453a31" text-anchor="middle" textLength="20.2" lengthAdjust="spacingAndGlyphs" stroke="#453a31" stroke-width="0.22">467</text>
<text x="1446.75" y="347.2" font-size="13" fill="#453a31" textLength="20.4" lengthAdjust="spacingAndGlyphs" stroke="#453a31" stroke-width="0.22">467</text>
<text x="1471.35" y="347.2" font-size="13" fill="#453a31" textLength="6.2" lengthAdjust="spacingAndGlyphs" stroke="#453a31" stroke-width="0.22">−</text>
<text x="1461.75" y="360.8" font-size="13" fill="#453a31" text-anchor="middle" textLength="20.2" lengthAdjust="spacingAndGlyphs" stroke="#453a31" stroke-width="0.22">478</text>
<text x="1501.25" y="347.2" font-size="13" fill="#453a31" textLength="20.4" lengthAdjust="spacingAndGlyphs" stroke="#453a31" stroke-width="0.22">478</text>
<text x="1525.85" y="347.2" font-size="13" fill="#453a31" textLength="6.2" lengthAdjust="spacingAndGlyphs" stroke="#453a31" stroke-width="0.22">−</text>
<text x="1516.25" y="360.8" font-size="13" fill="#453a31" text-anchor="middle" textLength="20.2" lengthAdjust="spacingAndGlyphs" stroke="#453a31" stroke-width="0.22">489</text>
<text x="1555.75" y="347.2" font-size="13" fill="#453a31" textLength="20.4" lengthAdjust="spacingAndGlyphs" stroke="#453a31" stroke-width="0.22">489</text>
<text x="1580.35" y="347.2" font-size="13" fill="#453a31" textLength="6.2" lengthAdjust="spacingAndGlyphs" stroke="#453a31" stroke-width="0.22">−</text>
<text x="1570.75" y="360.8" font-size="13" fill="#453a31" text-anchor="middle" textLength="20.2" lengthAdjust="spacingAndGlyphs" stroke="#453a31" stroke-width="0.22">500</text>
<text x="1610.25" y="347.2" font-size="13" fill="#453a31" textLength="20.4" lengthAdjust="spacingAndGlyphs" stroke="#453a31" stroke-width="0.22">500</text>
<text x="1634.85" y="347.2" font-size="13" fill="#453a31" textLength="6.2" lengthAdjust="spacingAndGlyphs" stroke="#453a31" stroke-width="0.22">−</text>
<text x="1625.25" y="360.8" font-size="13" fill="#453a31" text-anchor="middle" textLength="20.2" lengthAdjust="spacingAndGlyphs" stroke="#453a31" stroke-width="0.22">511</text>
<text x="1664.75" y="347.2" font-size="13" fill="#453a31" textLength="20.4" lengthAdjust="spacingAndGlyphs" stroke="#453a31" stroke-width="0.22">511</text>
<text x="1689.35" y="347.2" font-size="13" fill="#453a31" textLength="6.2" lengthAdjust="spacingAndGlyphs" stroke="#453a31" stroke-width="0.22">−</text>
<text x="1679.75" y="360.8" font-size="13" fill="#453a31" text-anchor="middle" textLength="20.2" lengthAdjust="spacingAndGlyphs" stroke="#453a31" stroke-width="0.22">522</text>
<text x="1719.25" y="347.2" font-size="13" fill="#453a31" textLength="20.4" lengthAdjust="spacingAndGlyphs" stroke="#453a31" stroke-width="0.22">522</text>
<text x="1743.85" y="347.2" font-size="13" fill="#453a31" textLength="6.2" lengthAdjust="spacingAndGlyphs" stroke="#453a31" stroke-width="0.22">−</text>
<text x="1734.25" y="360.8" font-size="13" fill="#453a31" text-anchor="middle" textLength="20.2" lengthAdjust="spacingAndGlyphs" stroke="#453a31" stroke-width="0.22">533</text>
<rect x="1324.6" y="14.5" width="6.8" height="5.6" fill="url(#gM2)" stroke="#000" stroke-width="1.3"/>
<text x="1334.2" y="22.5" font-size="13.3" fill="#453a31" textLength="79.8" lengthAdjust="spacingAndGlyphs">人気凡走馬数</text>
<rect x="1449.8" y="14.5" width="6.4" height="5.6" fill="url(#gB2)" stroke="#000" stroke-width="1.3"/>
<text x="1458.8" y="22.5" font-size="13.3" fill="#453a31" textLength="53.2" lengthAdjust="spacingAndGlyphs">激走馬数</text>
<line x1="1570" y1="20.3" x2="1596.7" y2="20.3" stroke="#00FF00" stroke-width="1.5"/>
<circle cx="1583.5" cy="20.3" r="4.2" fill="#00FF00" stroke="#800080" stroke-width="1.2"/>
<text x="1600.8" y="25.3" font-size="13.3" font-weight="bold" fill="#008000" textLength="42.9" lengthAdjust="spacing">検定値</text>
<text x="1287" y="387.3" font-size="13.2" fill="#453a31" textLength="163" lengthAdjust="spacingAndGlyphs">当日馬体重（Kg 以上-未満）</text></g></svg>
</body></html>
